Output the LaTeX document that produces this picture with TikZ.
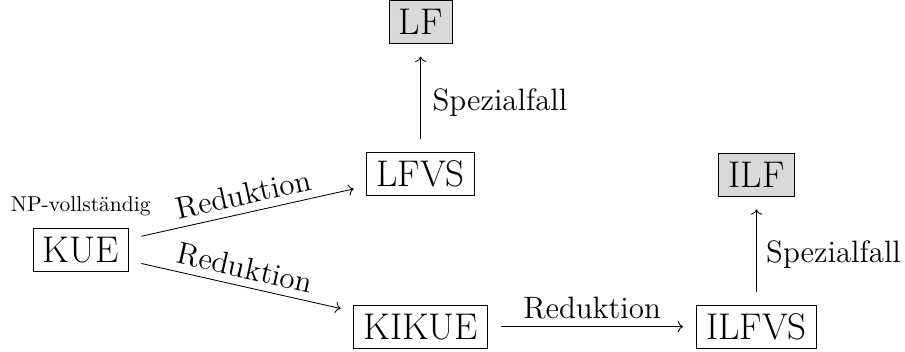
\documentclass[tikz,border=0pt]{standalone}
\usepackage{tikz}
\usetikzlibrary{positioning, arrows.meta}
\definecolor{boxgray}{gray}{0.85}
\tikzset{
  probbox/.style={rectangle, draw=black, font=\LARGE, minimum height=20pt,
    inner xsep=4.5pt, inner ysep=3.33pt},
  graybox/.style={probbox, fill=boxgray},
  arrow/.style={->, shorten >=6pt, shorten <=6pt},
  edgelabel/.style={font=\Large}
}
\begin{document}
\begin{tikzpicture}
  \useasboundingbox (0,0) rectangle (14.80,5.755);
  \node[probbox] (kue) at (1.32,1.67) {KUE};
  \node[above=2pt of kue] (np) {NP-vollständig};
  \node[probbox] (lfvs) at (6.88,2.91) {LFVS};
  \node[graybox, above=1.77cm of lfvs] (lf) {LF};
  \node[probbox, below=1.78cm of lfvs] (kikue) {KIKUE};
  \node[probbox, right=3.4cm of kikue] (ilfvs) {ILFVS};
  \node[graybox, above=1.77cm of ilfvs] (ilf) {ILF};

  \draw[arrow] (kue) -- node[edgelabel, midway, above, sloped] (red1) {Reduktion} (lfvs);
  \draw[arrow] (kue) -- node[edgelabel, midway, above, sloped] (red2) {Reduktion} (kikue);
  \draw[arrow] (kikue) -- node[edgelabel, midway, above] (red3) {Reduktion} (ilfvs);
  \draw[arrow] (lfvs) -- node[edgelabel, midway, right=2pt, yshift=-2pt] (spez1) {Spezialfall} (lf);
  \draw[arrow] (ilfvs) -- node[edgelabel, midway, right=1pt, yshift=-2pt] (spez2) {Spezialfall} (ilf);
\end{tikzpicture}
\end{document}
